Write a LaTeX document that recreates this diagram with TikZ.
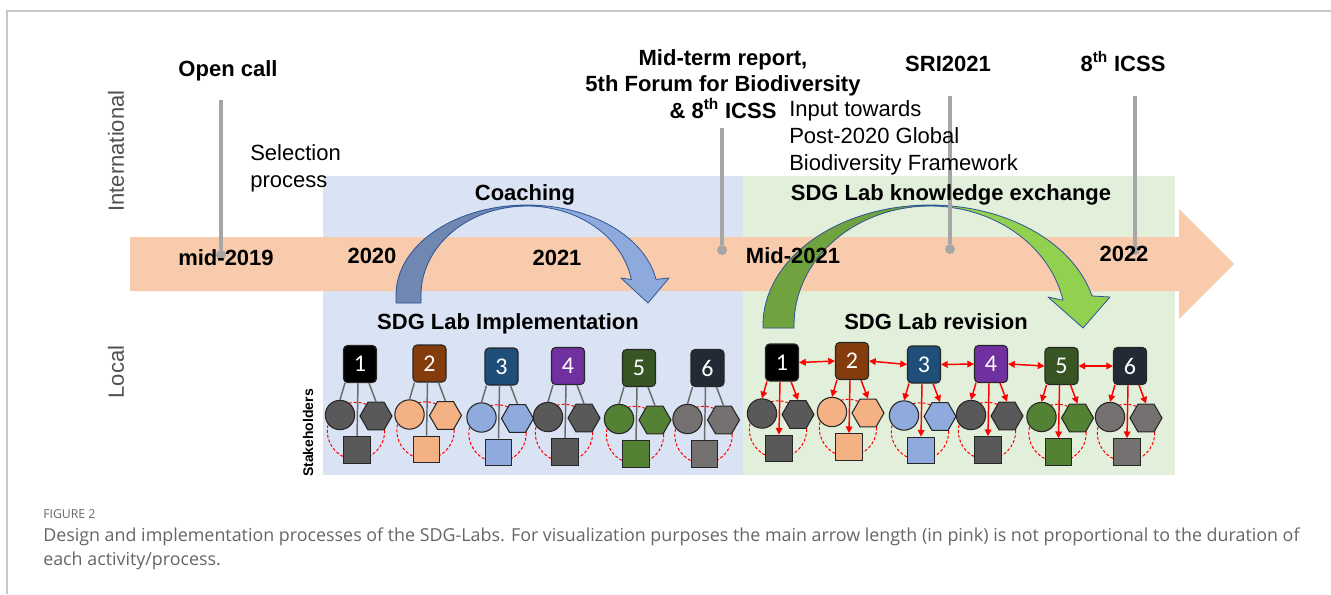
\documentclass[tikz,border=0pt]{standalone}
\usepackage{fontspec}
\setmainfont{Liberation Sans}
\newfontfamily\numfont{Carlito}
\newfontfamily\capfont{Open Sans}
\usetikzlibrary{shapes.geometric,arrows.meta,calc}

\definecolor{framegray}{HTML}{C8C8C8}
\definecolor{implbg}{HTML}{DAE3F3}
\definecolor{revbg}{HTML}{E2EFDA}
\definecolor{timeline}{HTML}{F8CBAD}
\definecolor{marker}{HTML}{A6A6A6}
\definecolor{coachdark}{HTML}{7087B2}
\definecolor{coachlight}{HTML}{8EAADC}
\definecolor{exdark}{HTML}{70A23F}
\definecolor{exlight}{HTML}{92D050}
\definecolor{arcedge}{HTML}{2F5597}
\definecolor{outline}{HTML}{262626}
\definecolor{linkgray}{HTML}{6B6B6B}
\definecolor{axisgray}{HTML}{505050}
\definecolor{captiongray}{HTML}{666666}
% lab boxes and their stakeholders
\definecolor{labA}{HTML}{000000}\definecolor{stA}{HTML}{595959}
\definecolor{labB}{HTML}{843C0C}\definecolor{stB}{HTML}{F4B183}
\definecolor{labC}{HTML}{1F4E79}\definecolor{stC}{HTML}{8FAADC}
\definecolor{labD}{HTML}{7030A0}\definecolor{stD}{HTML}{595959}
\definecolor{labE}{HTML}{375623}\definecolor{stE}{HTML}{548235}
\definecolor{labF}{HTML}{222A35}\definecolor{stF}{HTML}{767171}

% one lab with its three stakeholders:
% #1 name, #2 x, #3 y, #4 number, #5 lab colour, #6 stakeholder colour, #7 link style
\newcommand\labgroup[7]{%
  \draw[ringdash] ({#2-4},{#3+67}) circle[radius=21.5pt];
  \node[stcircle, fill=#6] (#1c) at ({#2-20},{#3+51}) {};
  \node[sthex, fill=#6] (#1h) at ({#2+16},{#3+52}) {};
  \node[stsquare, fill=#6] (#1s) at ({#2-3},{#3+86}) {};
  \node[labbox, fill=#5] (#1) at (#2,#3) {#4};
  \draw[#7] ($(#1.south west)+(2,0)$) -- (#1c.north);
  \draw[#7] ($(#1.south)+(-2,0)$) -- (#1s.north);
  \draw[#7] ($(#1.south)+(9,0)$) -- (#1h.north);
}

% curved process arrows
\newcommand\coachshape{(396,303) -- plot[domain=180:350,samples=60] ({527+131*cos(\x)},{295+90*sin(\x)}) -- (669,278) -- (648,303) -- (621,278) -- plot[domain=350:180,samples=60] ({527+106*cos(\x)},{295+89*sin(\x)}) -- (421,303) -- cycle}
\newcommand\exchangeshape{(763,328) -- plot[domain=180:346,samples=60] ({930+167*cos(\x)},{325+120*sin(\x)}) -- (1110,297) -- (1083,328) -- (1048,297) -- plot[domain=348:180,samples=60] ({930+136*cos(\x)},{325+119*sin(\x)}) -- (794,328) -- cycle}

\begin{document}
\begin{tikzpicture}[x=0.75pt,y=-0.75pt,
  lbl/.style={font=\fontsize{16.5}{19}\selectfont\bfseries, inner sep=0pt, anchor=base},
  txt/.style={font=\fontsize{16.5}{19}\selectfont, inner sep=0pt, anchor=base west},
  axislbl/.style={font=\fontsize{16.5}{19}\selectfont, text=axisgray, rotate=90, inner sep=0pt},
  labbox/.style={rectangle, rounded corners=3pt, draw=outline, line width=0.8pt, minimum width=24.75pt, minimum height=27.75pt, inner sep=0pt, text=white, font=\numfont\fontsize{18}{20}\selectfont},
  stcircle/.style={circle, draw=outline, line width=0.8pt, minimum size=22pt, inner sep=0pt},
  sthex/.style={regular polygon, regular polygon sides=6, draw=outline, line width=0.8pt, minimum size=24pt, inner sep=0pt},
  stsquare/.style={rectangle, draw=outline, line width=0.8pt, minimum size=20pt, inner sep=0pt},
  ringdash/.style={red, line width=0.75pt, dash pattern=on 2.2pt off 1.5pt},
  impllink/.style={draw=linkgray, line width=1.1pt},
  revlink/.style={draw=red, line width=1.1pt, -{Triangle[length=5pt,width=5pt]}},
  peerlink/.style={draw=red, line width=1.1pt, {Triangle[length=5pt,width=5pt]}-{Triangle[length=5pt,width=5pt]}},
  markline/.style={draw=marker, line width=2.4pt},
  markdot/.style={circle, fill=marker, minimum size=7.5pt, inner sep=0pt},
  capline/.style={font=\capfont\fontsize{13.4}{16}\selectfont, text=captiongray, inner sep=0pt, anchor=base west},
]
\useasboundingbox (0,0) rectangle (1331,594);
\fill[white] (0,0) rectangle (1331,594);

% page frame
\draw[framegray, line width=1.2pt] (7,594) -- (7,11) -- (1331,11);

% phase backgrounds
\fill[implbg] (323,176) rectangle (743,475);
\fill[revbg] (743,176) rectangle (1175,475);

% time line
\fill[timeline] (130,237) -- (1179,237) -- (1179,209) -- (1234,264) -- (1179,319) -- (1179,291) -- (130,291) -- cycle;

% coaching arrow
\fill[coachlight] \coachshape;
\begin{scope}
  \clip (300,150) rectangle (527,320);
  \fill[coachdark] \coachshape;
\end{scope}
\draw[arcedge, line width=0.6pt, line join=round] \coachshape;

% knowledge exchange arrow
\fill[exlight] \exchangeshape;
\begin{scope}
  \clip (700,150) rectangle (930,340);
  \fill[exdark] \exchangeshape;
\end{scope}
\draw[arcedge, line width=0.6pt, line join=round] \exchangeshape;

% international milestones
\coordinate (opentop) at (221,100);
\node[markdot] (opendot) at (221,255) {};
\draw[markline] (opentop) -- (opendot);
\coordinate (midtop) at (722,128);
\node[markdot] (middot) at (722,250) {};
\draw[markline] (midtop) -- (middot);
\coordinate (sritop) at (950,96);
\node[markdot] (sridot) at (950,249) {};
\draw[markline] (sritop) -- (sridot);
\coordinate (icsstop) at (1135,96);
\node[markdot] (icssdot) at (1135,250) {};
\draw[markline] (icsstop) -- (icssdot);

% axis labels
\node[axislbl] (intl) at (116,151) {International};
\node[axislbl] (local) at (116,372) {Local};

% milestone texts
\node[lbl] (opencall) at (228,76) {Open call};
\node[lbl] (midterm1) at (723,65) {Mid-term report,};
\node[lbl] (midterm2) at (723,91) {5th Forum for Biodiversity};
\node[lbl] (midterm3) at (723,118) {\& 8\textsuperscript{th} ICSS};
\node[lbl] (sri) at (948,71) {SRI2021};
\node[lbl] (icss) at (1123,71) {8\textsuperscript{th} ICSS};
\node[txt] (sel1) at (250,160) {Selection};
\node[txt] (sel2) at (250,187) {process};
\node[txt] (input1) at (789,116) {Input towards};
\node[txt] (input2) at (789,143) {Post-2020 Global};
\node[txt] (input3) at (789,170) {Biodiversity Framework};
\node[lbl] (coaching) at (525,200) {Coaching};
\node[lbl] (exchange) at (951,200) {SDG Lab knowledge exchange};

% years
\node[lbl] (y2019) at (226,265) {mid-2019};
\node[lbl] (y2020) at (372,263) {2020};
\node[lbl] (y2021) at (557,265) {2021};
\node[lbl] (ymid2021) at (793,263) {Mid-2021};
\node[lbl] (y2022) at (1124,261) {2022};

% phases
\node[lbl] (impl) at (508,329.5) {SDG Lab Implementation};
\node[lbl] (rev) at (936,329.5) {SDG Lab revision};
\node[font=\fontsize{10.5}{12}\selectfont\bfseries, rotate=90, inner sep=0pt] (stake) at (308,433) {Stakeholders};

% labs during implementation
\labgroup{i1}{360}{364}{1}{labA}{stA}{impllink}
\labgroup{i2}{429.5}{363.5}{2}{labB}{stB}{impllink}
\labgroup{i3}{501.5}{366.5}{3}{labC}{stC}{impllink}
\labgroup{i4}{568}{366}{4}{labD}{stD}{impllink}
\labgroup{i5}{639}{368}{5}{labE}{stE}{impllink}
\labgroup{i6}{707.5}{368}{6}{labF}{stF}{impllink}

% labs during revision
\labgroup{r1}{782}{362.5}{1}{labA}{stA}{revlink}
\labgroup{r2}{852}{361}{2}{labB}{stB}{revlink}
\labgroup{r3}{924}{364.5}{3}{labC}{stC}{revlink}
\labgroup{r4}{991}{364}{4}{labD}{stD}{revlink}
\labgroup{r5}{1061.5}{366}{5}{labE}{stE}{revlink}
\labgroup{r6}{1130}{366}{6}{labF}{stF}{revlink}
\draw[peerlink] (r1.east) -- (r2.west);
\draw[peerlink] (r2.east) -- (r3.west);
\draw[peerlink] (r3.east) -- (r4.west);
\draw[peerlink] (r4.east) -- (r5.west);
\draw[peerlink] (r5.east) -- (r6.west);

% caption
\node[capline, font=\capfont\fontsize{9.2}{11}\selectfont] (figno) at (43,518) {FIGURE 2};
\node[capline] (cap1) at (43,541.5) {Design and implementation processes of the SDG-Labs. For visualization purposes the main arrow length (in pink) is not proportional to the duration of};
\node[capline] (cap2) at (43,565) {each activity/process.};
\end{tikzpicture}
\end{document}
